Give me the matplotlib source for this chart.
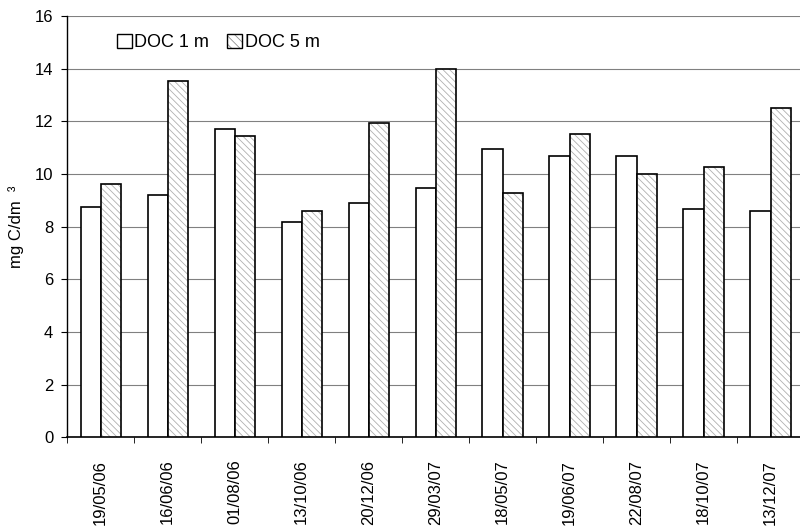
import matplotlib
matplotlib.use("Agg")
import matplotlib.pyplot as plt
import numpy as np
from matplotlib.patches import Patch
from matplotlib.legend_handler import HandlerTuple

plt.rcParams["font.family"] = ["Liberation Sans", "DejaVu Sans"]
plt.rcParams["hatch.linewidth"] = 0.6

# 采样日期和两层深度的DOC浓度
dates = ["19/05/06", "16/06/06", "01/08/06", "13/10/06", "20/12/06", "29/03/07",
         "18/05/07", "19/06/07", "22/08/07", "18/10/07", "13/12/07"]
doc_1m = [8.73, 9.21, 11.70, 8.16, 8.90, 9.45, 10.95, 10.69, 10.69, 8.65, 8.58]
doc_5m = [9.60, 13.52, 11.45, 8.59, 11.93, 13.98, 9.28, 11.51, 10.0, 10.26, 12.50]

x = np.arange(len(dates))
w = 0.3

fig = plt.figure(figsize=(8, 5.27), dpi=100)
ax = fig.add_axes([0.084, 0.170, 0.921, 0.800])

# 白色柱
ax.bar(x - w / 2, doc_1m, width=w, color="white", edgecolor="black", linewidth=1.2, zorder=3)
# 斜线柱：先画灰色斜线，再画黑色边框
ax.bar(x + w / 2, doc_5m, width=w, color="white", edgecolor="#b0b0b0", linewidth=0,
       hatch="\\\\\\\\\\", zorder=3)
ax.bar(x + w / 2, doc_5m, width=w, color="none", edgecolor="black", linewidth=1.2, zorder=4)

ax.set_xlim(-0.5, len(dates) - 0.5)
ax.set_ylim(0, 16)
ax.set_yticks(np.arange(0, 17, 2))
ax.yaxis.grid(True, color="#808080", linewidth=0.8, zorder=0)
ax.set_axisbelow(True)

ax.set_xticks(x)
ax.set_xticklabels(dates, rotation=90, fontsize=12)
ax.set_xticks(np.arange(-0.5, len(dates), 1), minor=True)
ax.tick_params(axis="x", which="major", length=0, pad=16)
ax.tick_params(axis="x", which="minor", length=4, direction="out")
ax.tick_params(axis="y", labelsize=12, length=4, direction="out", pad=6)

for s in ["top", "right"]:
    ax.spines[s].set_visible(False)
ax.spines["left"].set_linewidth(1.0)
ax.spines["bottom"].set_linewidth(1.2)

ax.set_ylabel("mg C/dm  \u00b3", fontsize=12, labelpad=8)

h1 = Patch(facecolor="white", edgecolor="black", linewidth=1.0)
h2a = Patch(facecolor="white", edgecolor="#909090", linewidth=0, hatch="\\\\\\\\")
h2b = Patch(facecolor="none", edgecolor="black", linewidth=1.0)
ax.legend([h1, (h2a, h2b)], ["DOC 1 m", "DOC 5 m"], ncol=2, frameon=False,
          loc="upper left", bbox_to_anchor=(0.046, 0.995), fontsize=13,
          handlelength=0.8, handleheight=0.8, handletextpad=0.15, columnspacing=1.0,
          handler_map={tuple: HandlerTuple(ndivide=1)})

fig.savefig("out.png", dpi=100)
